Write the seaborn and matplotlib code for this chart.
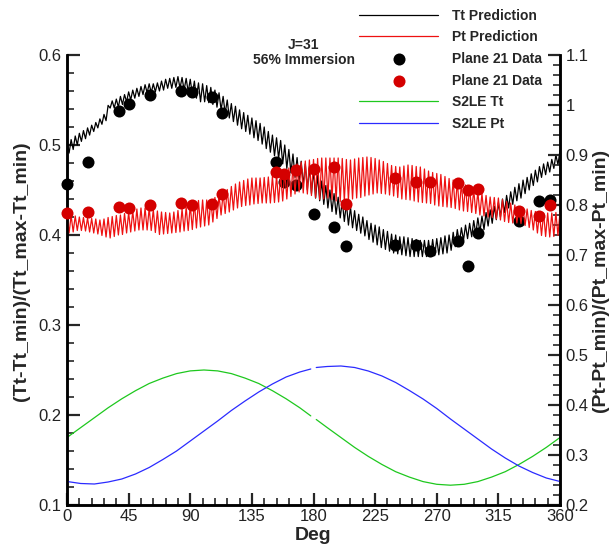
import numpy as np
import matplotlib
matplotlib.use("Agg")
import matplotlib.pyplot as plt
import seaborn as sns
from matplotlib.ticker import MultipleLocator, FuncFormatter

# ---- data ----
# prediction ripple: peaks at 0,3,...,360 deg and troughs at 1.5,4.5,...,358.5 deg
tt_hi = [.503, .506, .510, .513, .516, .519, .522, .525, .529, .534,
         .544, .549, .551, .554, .556, .559, .561, .563, .565, .567,
         .568, .568, .569, .571, .573, .574, .575, .576, .575, .574,
         .573, .571, .569, .568, .566, .564, .561, .558, .554, .550,
         .546, .543, .539, .536, .533, .530, .527, .524, .520, .515,
         .511, .508, .505, .500, .495, .490, .486, .482, .479, .476,
         .472, .466, .460, .455, .450, .446, .442, .438, .435, .431,
         .427, .423, .420, .416, .413, .411, .409, .406, .404, .401,
         .400, .398, .398, .397, .396, .395, .394, .394, .394, .395,
         .396, .397, .399, .400, .403, .406, .408, .411, .413, .416,
         .419, .421, .425, .428, .432, .436, .440, .444, .448, .453,
         .457, .461, .464, .468, .472, .476, .479, .481, .484, .489,
         .494]
tt_lo = [.491, .495, .500, .504, .507, .511, .515, .519, .523, .527,
         .541, .541, .542, .545, .548, .550, .552, .554, .556, .558,
         .558, .559, .560, .561, .563, .563, .564, .563, .561, .559,
         .556, .552, .548, .548, .547, .545, .542, .539, .535, .530,
         .526, .522, .518, .515, .512, .508, .505, .501, .496, .492,
         .488, .485, .479, .474, .469, .464, .460, .455, .450, .446,
         .441, .438, .434, .430, .426, .423, .419, .415, .411, .408,
         .405, .402, .399, .395, .392, .389, .386, .384, .382, .380,
         .379, .378, .377, .376, .376, .376, .376, .376, .376, .377,
         .378, .379, .380, .383, .387, .391, .394, .396, .398, .401,
         .403, .406, .410, .413, .417, .420, .425, .430, .434, .438,
         .441, .446, .450, .455, .459, .464, .467, .470, .474, .478]
pt_hi = [.780, .779, .778, .776, .775, .774, .773, .772, .770, .772,
         .775, .777, .779, .780, .783, .785, .788, .792, .794, .794,
         .794, .791, .788, .786, .785, .784, .786, .789, .792, .796,
         .800, .805, .809, .810, .810, .811, .815, .819, .824, .831,
         .837, .842, .846, .849, .852, .854, .854, .854, .855, .856,
         .857, .859, .861, .868, .874, .878, .882, .886, .888, .890,
         .891, .893, .894, .894, .894, .894, .894, .893, .891, .890,
         .892, .894, .895, .896, .895, .893, .890, .887, .883, .879,
         .877, .876, .878, .880, .879, .877, .876, .872, .868, .865,
         .863, .861, .857, .853, .850, .848, .845, .840, .836, .831,
         .827, .823, .819, .816, .815, .814, .811, .807, .804, .800,
         .797, .794, .792, .789, .787, .784, .784, .784, .784, .785,
         .786]
pt_lo = [.744, .746, .749, .749, .748, .746, .744, .742, .739, .736,
         .734, .737, .740, .741, .744, .746, .748, .750, .750, .750,
         .749, .745, .741, .742, .743, .744, .745, .746, .748, .749,
         .751, .754, .756, .758, .760, .766, .773, .780, .783, .786,
         .790, .794, .797, .799, .800, .802, .803, .804, .804, .804,
         .805, .806, .808, .812, .817, .822, .826, .824, .822, .819,
         .815, .811, .812, .814, .811, .808, .806, .808, .810, .812,
         .814, .815, .818, .820, .822, .824, .823, .822, .820, .818,
         .815, .812, .811, .810, .808, .806, .805, .804, .803, .800,
         .798, .797, .796, .795, .793, .790, .788, .787, .785, .783,
         .780, .778, .776, .775, .772, .770, .767, .765, .764, .764,
         .763, .759, .755, .750, .744, .739, .737, .736, .737, .739]

# Plane 21 measurements
data_deg = [0, 15.6, 38, 45.5, 60.4, 83.2, 91, 105.6, 113, 152.4, 158.4, 167.2,
            180, 195.2, 203.5, 239.5, 254.6, 265, 285.3, 293, 300, 330, 345, 352.7]
data_tt = [.457, .481, .538, .546, .556, .560, .559, .553, .536, .481, .459, .456,
           .423, .409, .388, .389, .389, .382, .393, .366, .402, .416, .438, .439]
data_pt = [.783, .786, .796, .794, .800, .803, .799, .801, .821, .865, .862, .869,
           .871, .875, .802, .853, .846, .846, .843, .830, .831, .788, .777, .800]

# S2LE curves, drawn in two pieces (break at 180 deg)
s2le_deg_a = [0, 10, 20, 30, 40, 50, 60, 70, 80, 90, 100, 110, 120, 130, 140, 150, 160, 170, 178]
s2le_deg_b = [182, 190, 200, 210, 220, 230, 240, 250, 260, 270, 280, 290, 300, 310, 320, 330, 340, 350, 360]
s2le_tt_a = [.175, .186, .197, .208, .218, .227, .235, .241, .246, .249, .250, .249, .246, .241,
             .235, .227, .218, .208, .199]
s2le_tt_b = [.195, .186, .175, .164, .154, .145, .137, .131, .126, .123, .122, .123, .126, .131,
             .137, .145, .154, .164, .175]
s2le_pt_a = [.247, .243, .242, .246, .252, .262, .275, .291, .308, .328, .348, .368, .389, .408,
             .426, .442, .456, .466, .472]
s2le_pt_b = [.475, .477, .478, .475, .468, .458, .445, .429, .412, .393, .372, .352, .332, .312,
             .294, .278, .265, .254, .247]


def ripple(hi, lo):
    """interleave peak/trough readings into one zigzag series"""
    deg = np.empty(len(hi) + len(lo))
    val = np.empty(len(hi) + len(lo))
    deg[0::2] = np.arange(len(hi)) * 3.0
    deg[1::2] = np.arange(len(lo)) * 3.0 + 1.5
    val[0::2] = hi
    val[1::2] = lo
    return deg, val


sns.set_style("ticks")
plt.rcParams['font.family'] = ['Liberation Sans', 'DejaVu Sans']

fig = plt.figure(figsize=(6.16, 5.45), dpi=100)
ax = fig.add_axes([0.1088, 0.0734, 0.8003, 0.8257])
ax2 = ax.twinx()

red_line = '#ee1111'
red_dot = '#d40000'
green = '#1ec81e'
blue = '#2b2bff'

x, y = ripple(tt_hi, tt_lo)
sns.lineplot(x=x, y=y, ax=ax, color='k', lw=0.9, estimator=None,
             label='Tt Prediction', legend=False)
sns.lineplot(x=s2le_deg_a, y=s2le_tt_a, ax=ax, color=green, lw=0.9, estimator=None,
             label='S2LE Tt', legend=False)
sns.lineplot(x=s2le_deg_b, y=s2le_tt_b, ax=ax, color=green, lw=0.9, estimator=None,
             legend=False)
sns.scatterplot(x=data_deg, y=data_tt, ax=ax, color='k', s=75, linewidth=0,
                clip_on=False, zorder=3, label='Plane 21 Data', legend=False)

x, y = ripple(pt_hi, pt_lo)
sns.lineplot(x=x, y=y, ax=ax2, color=red_line, lw=0.9, estimator=None,
             label='Pt Prediction', legend=False)
sns.lineplot(x=s2le_deg_a, y=s2le_pt_a, ax=ax2, color=blue, lw=0.9, estimator=None,
             label='S2LE Pt', legend=False)
sns.lineplot(x=s2le_deg_b, y=s2le_pt_b, ax=ax2, color=blue, lw=0.9, estimator=None,
             legend=False)
sns.scatterplot(x=data_deg, y=data_pt, ax=ax2, color=red_dot, s=75, linewidth=0,
                clip_on=False, zorder=3, label='Plane 21 Data', legend=False)

# axes
ax.set_xlim(0, 360)
ax.set_ylim(0.1, 0.6)
ax2.set_ylim(0.2, 1.1)
ax.xaxis.set_major_locator(MultipleLocator(45))
ax.xaxis.set_minor_locator(MultipleLocator(9))
for a in (ax, ax2):
    a.yaxis.set_major_locator(MultipleLocator(0.1))
    a.yaxis.set_minor_locator(MultipleLocator(0.02))
    a.yaxis.set_major_formatter(FuncFormatter(lambda v, p: f'{v:g}'))
    a.tick_params(which='major', direction='in', length=9, width=1.6,
                  labelsize=12, labelcolor='#222222', pad=4)
    a.tick_params(which='minor', direction='in', length=5, width=1.2)
    a.spines['top'].set_visible(False)
    for s in ('left', 'right', 'bottom'):
        a.spines[s].set_linewidth(1.8)
        a.spines[s].set_color('k')
ax.tick_params(axis='x', which='major', pad=3)

ax.set_xlabel('Deg', weight='bold', size=14)
ax.xaxis.set_label_coords(0.5, -0.05)
ax.set_ylabel('(Tt-Tt_min)/(Tt_max-Tt_min)', weight='bold', size=14)
ax.yaxis.set_label_coords(-0.075, 0.52)
ax2.set_ylabel('(Pt-Pt_min)/(Pt_max-Pt_min)', weight='bold', size=14)
ax2.yaxis.set_label_coords(1.065, 0.5)

# legend, in the order of the reference
h1, l1 = ax.get_legend_handles_labels()
h2, l2 = ax2.get_legend_handles_labels()
handles = [h1[0], h2[0], h1[2], h2[2], h1[1], h2[1]]
labels = [l1[0], l2[0], l1[2], l2[2], l1[1], l2[1]]
fig.legend(handles, labels, loc='upper left', bbox_to_anchor=(0.583, 0.984),
           frameon=False, prop=dict(weight='bold', size=10), handlelength=5.7,
           handletextpad=1.0, labelspacing=0.55, borderpad=0, borderaxespad=0,
           scatterpoints=1)

fig.text(304 / 616, 0.904, 'J=31\n56% Immersion', ha='center', va='center',
         weight='bold', size=10, linespacing=1.05)

fig.savefig('out.png', dpi=100)
